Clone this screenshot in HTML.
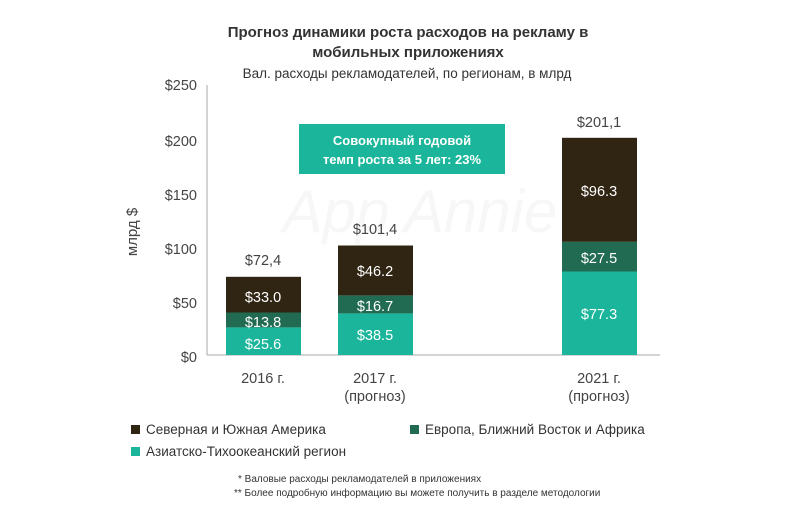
<!DOCTYPE html>
<html><head><meta charset="utf-8"><style>
body{margin:0;background:#fff;width:788px;height:513px;overflow:hidden;font-family:"Liberation Sans",sans-serif;}
</style></head><body>
<svg width="788" height="513" xmlns="http://www.w3.org/2000/svg" font-family="Liberation Sans, sans-serif">
<text x="408" y="37" text-anchor="middle" font-size="15" font-weight="bold" fill="#333">Прогноз динамики роста расходов на рекламу в</text>
<text x="408" y="57" text-anchor="middle" font-size="15" font-weight="bold" fill="#333">мобильных приложениях</text>
<text x="407" y="78" text-anchor="middle" font-size="13.5" fill="#333">Вал. расходы рекламодателей, по регионам, в млрд</text>
<text x="420" y="232" text-anchor="middle" font-size="60" font-style="italic" fill="#f7f7f7">App Annie</text>
<g font-size="14.5" fill="#444" text-anchor="end">
<text x="197" y="90">$250</text><text x="197" y="146">$200</text><text x="197" y="200">$150</text>
<text x="197" y="254">$100</text><text x="197" y="308">$50</text><text x="197" y="362">$0</text>
</g>
<text transform="translate(137,232) rotate(-90)" text-anchor="middle" font-size="15" fill="#444">млрд $</text>
<line x1="207" y1="85" x2="207" y2="355" stroke="#aaa"/>
<line x1="207" y1="355" x2="660" y2="355" stroke="#aaa"/>
<rect x="299" y="124" width="206" height="50" fill="#1ab59a"/>
<text x="402" y="145" text-anchor="middle" font-size="13" font-weight="bold" fill="#fff">Совокупный годовой</text>
<text x="402" y="164" text-anchor="middle" font-size="13" font-weight="bold" fill="#fff">темп роста за 5 лет: 23%</text>
<rect x="226" y="327.4" width="75" height="27.6" fill="#1ab59a"/>
<rect x="226" y="312.5" width="75" height="14.9" fill="#226b53"/>
<rect x="226" y="276.8" width="75" height="35.7" fill="#302412"/>
<rect x="338" y="313.4" width="75" height="41.6" fill="#1ab59a"/>
<rect x="338" y="295.4" width="75" height="18" fill="#226b53"/>
<rect x="338" y="245.5" width="75" height="49.9" fill="#302412"/>
<rect x="562" y="271.5" width="75" height="83.5" fill="#1ab59a"/>
<rect x="562" y="241.8" width="75" height="29.7" fill="#226b53"/>
<rect x="562" y="137.8" width="75" height="104" fill="#302412"/>
<g font-size="14.5" fill="#fff" text-anchor="middle">
<text x="263" y="349">$25.6</text><text x="263" y="327">$13.8</text><text x="263" y="302">$33.0</text>
<text x="375" y="340">$38.5</text><text x="375" y="311">$16.7</text><text x="375" y="276">$46.2</text>
<text x="599" y="319">$77.3</text><text x="599" y="263">$27.5</text><text x="599" y="196">$96.3</text>
</g>
<g font-size="14.5" fill="#444" text-anchor="middle">
<text x="263" y="265">$72,4</text><text x="375" y="234">$101,4</text><text x="599" y="127">$201,1</text>
<text x="263" y="383">2016 г.</text><text x="375" y="383">2017 г.</text><text x="375" y="401">(прогноз)</text>
<text x="599" y="383">2021 г.</text><text x="599" y="401">(прогноз)</text>
</g>
<rect x="131" y="425" width="9" height="9" fill="#302412"/>
<text x="146" y="434" font-size="13.5" fill="#333">Северная и Южная Америка</text>
<rect x="410" y="425" width="9" height="9" fill="#226b53"/>
<text x="425" y="434" font-size="13.5" fill="#333">Европа, Ближний Восток и Африка</text>
<rect x="131" y="447" width="9" height="9" fill="#1ab59a"/>
<text x="146" y="456" font-size="13.5" fill="#333">Азиатско-Тихоокеанский регион</text>
<text x="238" y="482" font-size="10" fill="#333">* Валовые расходы рекламодателей в приложениях</text>
<text x="234" y="496" font-size="10" fill="#333">** Более подробную информацию вы можете получить в разделе методологии</text>
</svg>
</body></html>
